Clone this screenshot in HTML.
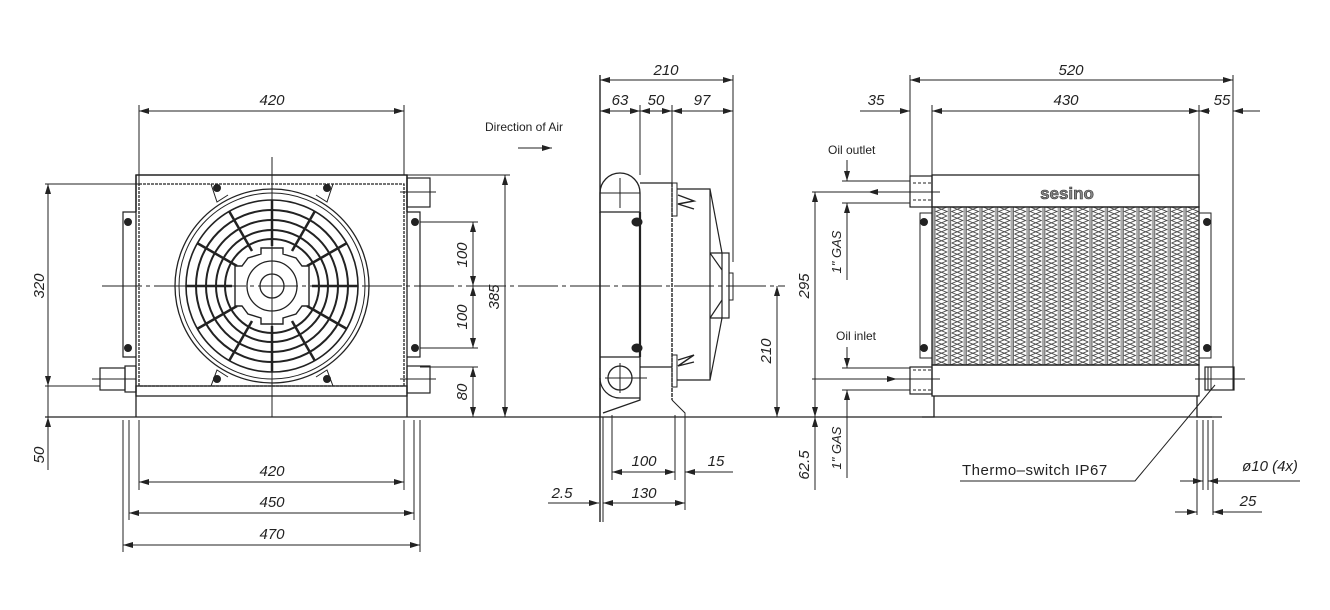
<!DOCTYPE html>
<html><head><meta charset="utf-8"><style>
html,body{margin:0;padding:0;background:#fff}
svg{display:block}
text{font-family:"Liberation Sans",sans-serif;fill:#222}
.d{font-style:italic;font-size:15px}
.l{font-size:12px}
</style></head><body>
<svg width="1330" height="610" viewBox="0 0 1330 610" xmlns="http://www.w3.org/2000/svg">
<defs>
<marker id="a" viewBox="0 0 10 6" refX="10" refY="3" markerWidth="10" markerHeight="6" orient="auto-start-reverse" markerUnits="userSpaceOnUse"><path d="M0,0 L10,3 L0,6 z" fill="#222"/></marker>
<pattern id="fin" x="932" y="207" width="15.7" height="9" patternUnits="userSpaceOnUse">
<rect x="0" y="0" width="2.5" height="9" fill="#aaa"/>
<line x1="3" y1="0" x2="3" y2="9" stroke="#444" stroke-width="0.8"/>
<path d="M4,0 L15,4.5 L4,9 M15,0 L4,4.5 L15,9" stroke="#444" stroke-width="0.9" fill="none"/>
</pattern>
</defs>
<g stroke="#222" stroke-width="1" fill="none">
<!-- ===== FRONT VIEW ===== -->
<line x1="139" y1="105" x2="139" y2="184"/><line x1="404" y1="105" x2="404" y2="175"/>
<line x1="139" y1="111" x2="404" y2="111" marker-start="url(#a)" marker-end="url(#a)"/>
<line x1="45" y1="184" x2="139" y2="184"/><line x1="45" y1="386" x2="100" y2="386"/>
<line x1="45" y1="417" x2="830" y2="417" stroke-width="1.3"/>
<line x1="48" y1="184" x2="48" y2="386" marker-start="url(#a)" marker-end="url(#a)"/>
<line x1="48" y1="386" x2="48" y2="470"/>
<line x1="48" y1="430" x2="48" y2="417" marker-end="url(#a)"/>
<line x1="407" y1="175" x2="510" y2="175"/>
<line x1="420" y1="222" x2="478" y2="222"/><line x1="420" y1="348" x2="478" y2="348"/><line x1="420" y1="367" x2="478" y2="367"/>
<line x1="473" y1="222" x2="473" y2="286" marker-start="url(#a)" marker-end="url(#a)"/>
<line x1="473" y1="286" x2="473" y2="348" marker-start="url(#a)" marker-end="url(#a)"/>
<line x1="473" y1="367" x2="473" y2="417" marker-start="url(#a)" marker-end="url(#a)"/>
<line x1="505" y1="175" x2="505" y2="417" marker-start="url(#a)" marker-end="url(#a)"/>
<line x1="139" y1="420" x2="139" y2="490"/><line x1="404" y1="420" x2="404" y2="490"/>
<line x1="129" y1="420" x2="129" y2="520"/><line x1="414" y1="420" x2="414" y2="520"/>
<line x1="123" y1="420" x2="123" y2="552"/><line x1="420" y1="420" x2="420" y2="552"/>
<line x1="139" y1="482" x2="404" y2="482" marker-start="url(#a)" marker-end="url(#a)"/>
<line x1="129" y1="513" x2="414" y2="513" marker-start="url(#a)" marker-end="url(#a)"/>
<line x1="123" y1="545" x2="420" y2="545" marker-start="url(#a)" marker-end="url(#a)"/>
<path d="M136,212 V175 H407 V212" stroke-width="1.4"/>
<rect x="139" y="184" width="265" height="202" stroke-dasharray="3,1" stroke-width="1.3"/>
<path d="M136,212 H123 V357 H136 M407,212 H420 V357 H407" stroke-width="1.2"/>
<line x1="136" y1="175" x2="136" y2="417" stroke-width="1.3"/><line x1="407" y1="175" x2="407" y2="417" stroke-width="1.3"/>
<rect x="136" y="386" width="271" height="10" stroke-width="1.3"/>
<path d="M123,417 H140 M403,417 H420"/>
<rect x="100" y="368" width="25" height="22" stroke-width="1.2"/><rect x="125" y="366" width="11" height="26" stroke-width="1.2"/>
<line x1="92" y1="379" x2="136" y2="379"/>
<rect x="407" y="178" width="23" height="29" stroke-width="1.2"/><line x1="400" y1="192" x2="436" y2="192"/>
<rect x="407" y="366" width="23" height="27" stroke-width="1.2"/><line x1="400" y1="379" x2="436" y2="379"/>
<circle cx="272" cy="286" r="97" stroke-width="1.3"/>
<circle cx="272" cy="286" r="93"/>
<circle cx="272" cy="286" r="86" stroke-width="1.6"/>
<circle cx="272" cy="286" r="76" stroke-width="2"/>
<circle cx="272" cy="286" r="66" stroke-width="2"/>
<circle cx="272" cy="286" r="56" stroke-width="2"/>
<circle cx="272" cy="286" r="47" stroke-width="2"/>
<g stroke-width="2.5">
<line x1="272" y1="246" x2="272" y2="200"/><line x1="272" y1="326" x2="272" y2="372"/>
<line x1="232" y1="286" x2="186" y2="286"/><line x1="312" y1="286" x2="358" y2="286"/>
<line x1="292" y1="251" x2="315" y2="211"/><line x1="252" y1="251" x2="229" y2="211"/>
<line x1="292" y1="321" x2="315" y2="361"/><line x1="252" y1="321" x2="229" y2="361"/>
<line x1="307" y1="266" x2="347" y2="243"/><line x1="237" y1="266" x2="197" y2="243"/>
<line x1="307" y1="306" x2="347" y2="329"/><line x1="237" y1="306" x2="197" y2="329"/>
</g>
<path d="M261,248 H283 V254 L296,258 L302,266 H309 V306 H302 L296,314 L283,318 V324 H261 V318 L248,314 L242,306 H235 V266 H242 L248,258 L261,254 Z" fill="#fff" stroke-width="1.4"/>
<circle cx="272" cy="286" r="25" stroke-width="1.3"/><circle cx="272" cy="286" r="12" stroke-width="1.3"/>
<path d="M211,184 L217,202 L228,195 M333,184 L327,202 L316,195 M211,386 L217,370 L228,377 M333,386 L327,370 L316,377"/>
<g fill="#222"><circle cx="217" cy="188" r="3.5"/><circle cx="327" cy="188" r="3.5"/><circle cx="217" cy="379" r="3.5"/><circle cx="327" cy="379" r="3.5"/>
<circle cx="128" cy="222" r="3.5"/><circle cx="128" cy="348" r="3.5"/><circle cx="415" cy="222" r="3.5"/><circle cx="415" cy="348" r="3.5"/></g>
<line x1="272" y1="157" x2="272" y2="417"/>
<line x1="102" y1="286" x2="785" y2="286" stroke-dasharray="40,4,4,4"/>
<line x1="518" y1="148" x2="552" y2="148" marker-end="url(#a)"/>

<!-- ===== SIDE VIEW ===== -->
<line x1="600" y1="75" x2="600" y2="522" stroke-width="1.4"/>
<line x1="733" y1="75" x2="733" y2="262"/>
<line x1="640" y1="105" x2="640" y2="175"/><line x1="672" y1="105" x2="672" y2="183"/>
<line x1="600" y1="80" x2="733" y2="80" marker-start="url(#a)" marker-end="url(#a)"/>
<line x1="600" y1="111" x2="640" y2="111" marker-start="url(#a)" marker-end="url(#a)"/>
<line x1="640" y1="111" x2="672" y2="111" marker-start="url(#a)" marker-end="url(#a)"/>
<line x1="672" y1="111" x2="733" y2="111" marker-start="url(#a)" marker-end="url(#a)"/>
<path d="M600,193 A20,20 0 0 1 640,193 V212 H600 Z" stroke-width="1.3"/>
<line x1="620" y1="178" x2="620" y2="208"/><line x1="600" y1="193" x2="640" y2="193"/>
<line x1="600" y1="212" x2="600" y2="417" stroke-width="1.3"/>
<line x1="640" y1="212" x2="640" y2="357" stroke-width="2.2"/>
<path d="M600,357 H640 V400 L603,413" stroke-width="1.3"/>
<path d="M600,378 A20,20 0 0 0 620,398 H640" stroke-width="1.2"/>
<circle cx="620" cy="378" r="12" stroke-width="1.3"/><line x1="605" y1="378" x2="647" y2="378"/><line x1="620" y1="363" x2="620" y2="393"/>
<g fill="#222"><ellipse cx="637" cy="222" rx="5" ry="4"/><ellipse cx="637" cy="348" rx="5" ry="4"/></g>
<path d="M640,183 H672 M640,367 H672" stroke-width="1.3"/>
<line x1="672" y1="183" x2="672" y2="400" stroke-dasharray="4,1" stroke-width="1.4"/>
<path d="M672,400 L685,413 V417"/>
<rect x="672" y="183" width="5" height="33"/><rect x="672" y="355" width="5" height="32"/>
<path d="M677,189 H710 V380 H677 M710,189 L722,253 M710,380 L722,318 M710,253 H722 M710,318 H722 M710,253 L722,270 M710,318 L722,300" stroke-width="1.2"/>
<rect x="722" y="253" width="7" height="65" stroke-width="1.2"/><rect x="729" y="273" width="4" height="27"/>
<path d="M678,195 L694,201 L678,204 L694,209 M678,360 L694,355 L678,366 L694,362" stroke-width="1.4"/>
<line x1="612" y1="415" x2="612" y2="480"/><line x1="675" y1="415" x2="675" y2="480"/><line x1="685" y1="415" x2="685" y2="510"/>
<line x1="612" y1="472" x2="675" y2="472" marker-start="url(#a)" marker-end="url(#a)"/>
<line x1="733" y1="472" x2="685" y2="472" marker-end="url(#a)"/>
<line x1="603" y1="503" x2="685" y2="503" marker-start="url(#a)" marker-end="url(#a)"/>
<line x1="548" y1="503" x2="599" y2="503" marker-end="url(#a)"/>
<line x1="603" y1="417" x2="603" y2="522"/>
<line x1="777" y1="286" x2="777" y2="417" marker-start="url(#a)" marker-end="url(#a)"/>

<!-- ===== RIGHT VIEW ===== -->
<line x1="910" y1="75" x2="910" y2="207"/><line x1="932" y1="105" x2="932" y2="175"/>
<line x1="1199" y1="105" x2="1199" y2="175"/><line x1="1233" y1="75" x2="1233" y2="390"/>
<line x1="910" y1="80" x2="1233" y2="80" marker-start="url(#a)" marker-end="url(#a)"/>
<line x1="932" y1="111" x2="1199" y2="111" marker-start="url(#a)" marker-end="url(#a)"/>
<line x1="860" y1="111" x2="910" y2="111" marker-end="url(#a)"/>
<line x1="1260" y1="111" x2="1233" y2="111" marker-end="url(#a)"/>
<line x1="1199" y1="111" x2="1210" y2="111" marker-start="url(#a)"/>
<rect x="932" y="175" width="267" height="32" stroke-width="1.3"/>
<rect x="932" y="207" width="267" height="158" fill="url(#fin)" stroke-width="1.3"/>
<rect x="932" y="365" width="267" height="31" stroke-width="1.3"/>
<path d="M934,396 V417 H922 M1197,396 V417 H1212" stroke-width="1.3"/>
<rect x="920" y="213" width="12" height="145"/><rect x="1199" y="213" width="12" height="145"/>
<g fill="#222"><circle cx="924" cy="222" r="3.5"/><circle cx="924" cy="348" r="3.5"/><circle cx="1207" cy="222" r="3.5"/><circle cx="1207" cy="348" r="3.5"/></g>
<rect x="910" y="176" width="22" height="31" stroke-width="1.2"/><path d="M913,183 H932 M913,200 H932" stroke-dasharray="3,2"/>
<rect x="910" y="367" width="22" height="27" stroke-width="1.2"/><path d="M913,370 H932 M913,390 H932" stroke-dasharray="3,2"/>
<rect x="1205" y="367" width="29" height="23" stroke-width="1.2"/><path d="M1208,367 V390 M1211,367 V390"/>
<line x1="1195" y1="379" x2="1245" y2="379"/>
<line x1="842" y1="181" x2="910" y2="181"/><line x1="842" y1="203" x2="910" y2="203"/>
<line x1="812" y1="192" x2="940" y2="192"/>
<line x1="920" y1="192" x2="868" y2="192" marker-end="url(#a)"/>
<line x1="842" y1="368" x2="910" y2="368"/><line x1="842" y1="390" x2="910" y2="390"/>
<line x1="812" y1="379" x2="940" y2="379"/>
<line x1="845" y1="379" x2="897" y2="379" marker-end="url(#a)"/>
<line x1="847" y1="160" x2="847" y2="181" marker-end="url(#a)"/><line x1="847" y1="280" x2="847" y2="203" marker-end="url(#a)"/>
<line x1="847" y1="347" x2="847" y2="368" marker-end="url(#a)"/><line x1="847" y1="478" x2="847" y2="390" marker-end="url(#a)"/>
<line x1="815" y1="192" x2="815" y2="417" marker-start="url(#a)" marker-end="url(#a)"/>
<line x1="815" y1="417" x2="815" y2="490"/>
<line x1="815" y1="440" x2="815" y2="417" marker-end="url(#a)"/>
<line x1="830" y1="417" x2="1222" y2="417" stroke-width="1.3"/>
<path d="M960,481 H1135 L1215,385" />
<path d="M1197,420 V515 M1203,420 V490 M1208,420 V490 M1213,420 V515"/>
<line x1="1180" y1="481" x2="1203" y2="481" marker-end="url(#a)"/><line x1="1300" y1="481" x2="1208" y2="481" marker-end="url(#a)"/>
<line x1="1175" y1="512" x2="1197" y2="512" marker-end="url(#a)"/><line x1="1262" y1="512" x2="1213" y2="512" marker-end="url(#a)"/>
</g>
<text class="d" x="272" y="105" text-anchor="middle">420</text>
<text class="d" x="272" y="476" text-anchor="middle">420</text>
<text class="d" x="272" y="507" text-anchor="middle">450</text>
<text class="d" x="272" y="539" text-anchor="middle">470</text>
<text class="d" transform="translate(44,286) rotate(-90)" text-anchor="middle">320</text>
<text class="d" transform="translate(44,455) rotate(-90)" text-anchor="middle">50</text>
<text class="d" transform="translate(467,255) rotate(-90)" text-anchor="middle">100</text>
<text class="d" transform="translate(467,317) rotate(-90)" text-anchor="middle">100</text>
<text class="d" transform="translate(467,392) rotate(-90)" text-anchor="middle">80</text>
<text class="d" transform="translate(499,297) rotate(-90)" text-anchor="middle">385</text>
<text class="l" x="485" y="131">Direction of Air</text>
<text class="d" x="666" y="75" text-anchor="middle">210</text>
<text class="d" x="620" y="105" text-anchor="middle">63</text>
<text class="d" x="656" y="105" text-anchor="middle">50</text>
<text class="d" x="702" y="105" text-anchor="middle">97</text>
<text class="d" transform="translate(771,351) rotate(-90)" text-anchor="middle">210</text>
<text class="d" x="644" y="466" text-anchor="middle">100</text>
<text class="d" x="716" y="466" text-anchor="middle">15</text>
<text class="d" x="644" y="498" text-anchor="middle">130</text>
<text class="d" x="562" y="498" text-anchor="middle">2.5</text>
<text class="d" x="1071" y="75" text-anchor="middle">520</text>
<text class="d" x="1066" y="105" text-anchor="middle">430</text>
<text class="d" x="876" y="105" text-anchor="middle">35</text>
<text class="d" x="1222" y="105" text-anchor="middle">55</text>
<text x="1067" y="199" text-anchor="middle" style="font-size:17px;font-weight:bold;fill:#888;stroke:#333;stroke-width:0.6">sesino</text>
<text class="l" x="828" y="154">Oil outlet</text>
<text class="l" x="836" y="340">Oil inlet</text>
<text class="d" style="font-size:13px" transform="translate(841,252) rotate(-90)" text-anchor="middle">1" GAS</text>
<text class="d" style="font-size:13px" transform="translate(841,448) rotate(-90)" text-anchor="middle">1" GAS</text>
<text class="d" transform="translate(809,286) rotate(-90)" text-anchor="middle">295</text>
<text class="d" transform="translate(809,465) rotate(-90)" text-anchor="middle">62.5</text>
<text x="962" y="475" style="font-size:15px;letter-spacing:0.5px">Thermo–switch IP67</text>
<text class="d" x="1270" y="471" text-anchor="middle">ø10 (4x)</text>
<text class="d" x="1248" y="506" text-anchor="middle">25</text>
</svg>
</body></html>
